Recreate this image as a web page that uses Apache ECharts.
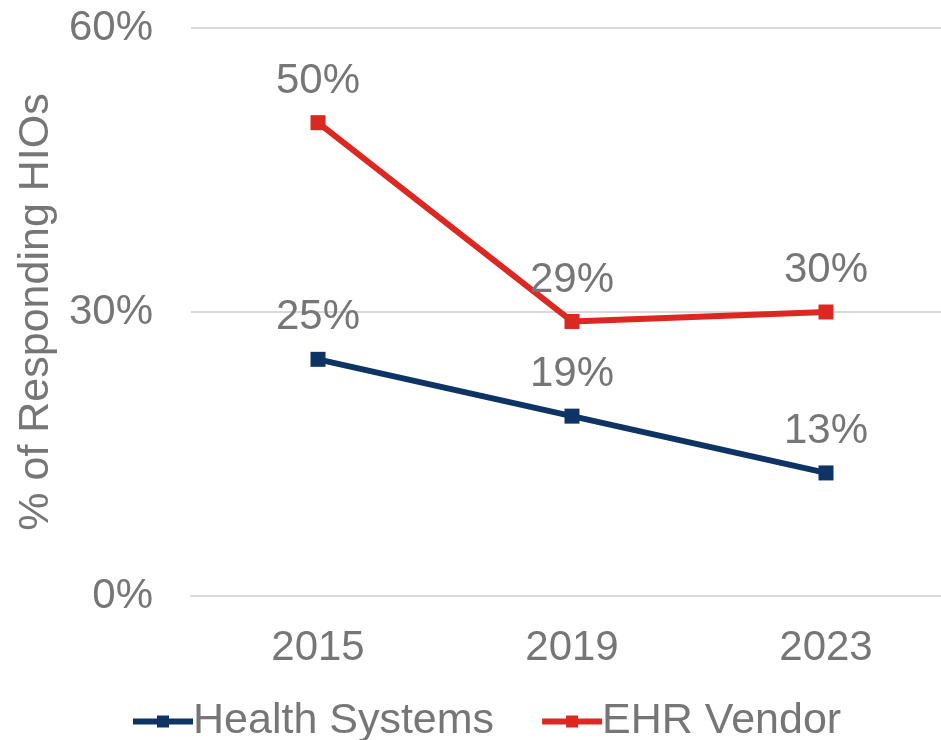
<!DOCTYPE html>
<html>
<head>
<meta charset="utf-8">
<style>
html,body{margin:0;padding:0;background:#fff;overflow:hidden;}
#main{width:953px;height:740px;}
</style>
<script src="https://cdn.jsdelivr.net/npm/echarts@6/dist/echarts.min.js"></script>
</head>
<body>
<div id="main"></div>
<script>
var years = ['2015', '2019', '2023'];
var healthSystems = [25, 19, 13];
var ehrVendor = [50, 29, 30];
var yTicks = [0, 30, 60];

var gray = '#767676';
var font = '"Liberation Sans", Arial, sans-serif';

// plot area runs a little past the right edge of the window, like the original
var myChart = echarts.init(document.getElementById('main'));

function lineSeries(name, data, color) {
	return {
		name: name,
		type: 'line',
		data: data,
		symbol: 'rect',
		symbolSize: 15,
		lineStyle: { width: 6, color: color },
		itemStyle: { color: color },
		label: {
			show: true,
			position: 'top',
			distance: 13,
			color: gray,
			fontFamily: font,
			fontSize: 42,
			formatter: '{c}%'
		},
		animation: false
	};
}

myChart.setOption({
	textStyle: { fontFamily: font },
	grid: { left: 191, top: 28, right: 0, bottom: 144, containLabel: false },
	legend: {
		bottom: -8,
		left: 125,
		itemWidth: 60,
		itemHeight: 15,
		itemGap: 45,
		lineStyle: { width: 6 },
		textStyle: { color: gray, fontSize: 43, fontFamily: font, padding: [0, 0, 0, -5] },
		data: ['Health Systems', 'EHR Vendor']
	},
	xAxis: {
		type: 'category',
		data: years,
		axisLine: { lineStyle: { color: '#d9d9d9', width: 2 } },
		axisTick: { show: false },
		axisLabel: { color: gray, fontSize: 42, margin: 31, fontFamily: font }
	},
	yAxis: {
		type: 'value',
		min: yTicks[0],
		max: yTicks[yTicks.length - 1],
		interval: 30,
		name: '% of Responding HIOs',
		nameLocation: 'middle',
		nameGap: 129,
		nameTextStyle: { color: gray, fontSize: 43, fontFamily: font },
		axisLine: { show: false },
		axisTick: { show: false },
		splitLine: { lineStyle: { color: '#d9d9d9', width: 2 } },
		axisLabel: { color: gray, fontSize: 42, margin: 38, fontFamily: font, formatter: '{value}%' }
	},
	series: [
		lineSeries('Health Systems', healthSystems, '#0e3466'),
		lineSeries('EHR Vendor', ehrVendor, '#dc2820')
	]
});
</script>
</body>
</html>
